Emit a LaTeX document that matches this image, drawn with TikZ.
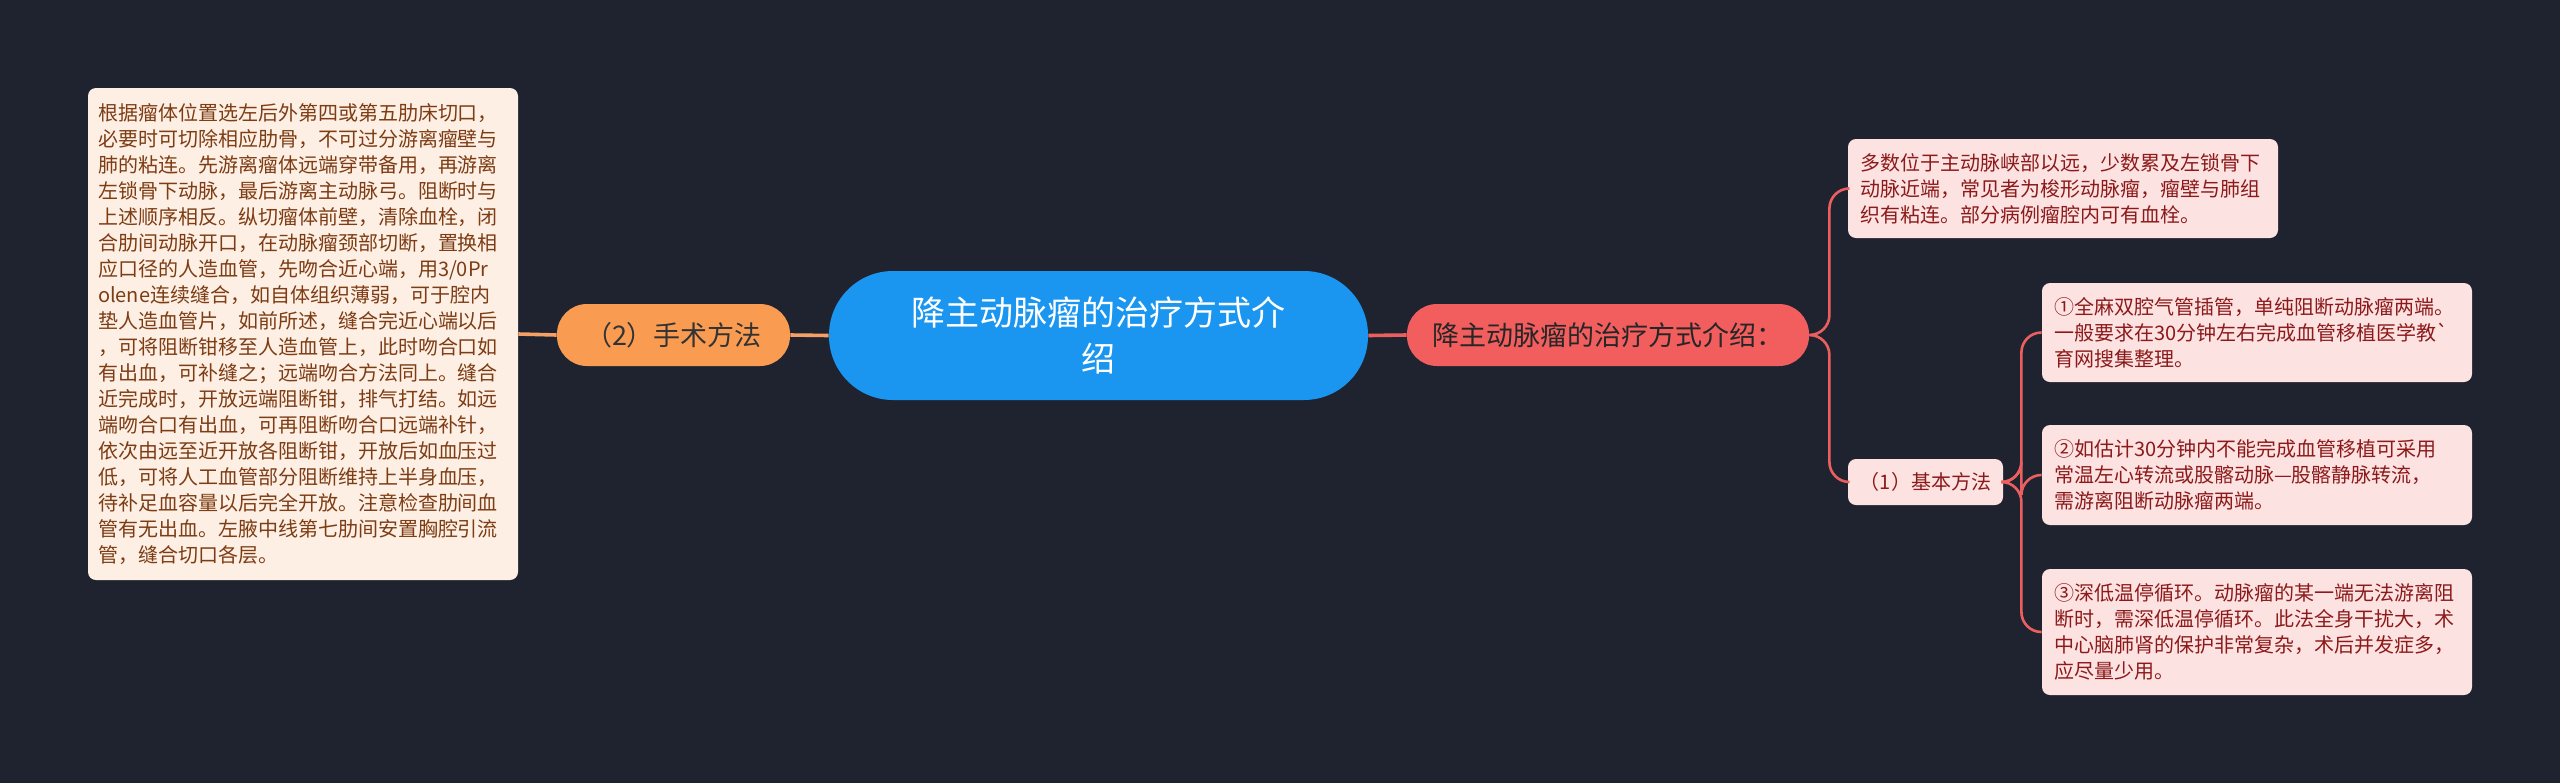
\documentclass[tikz,border=0pt]{standalone}
\usepackage{fontspec}
\setmainfont{Noto Sans CJK SC}[Ligatures=TeXOff]
\definecolor{bgnavy}{HTML}{1F2330}
\definecolor{rootblue}{HTML}{1A96F0}
\definecolor{orangefill}{HTML}{F99C52}
\definecolor{redfill}{HTML}{F25E5E}
\definecolor{peachfill}{HTML}{FDEFE3}
\definecolor{peachtext}{HTML}{7D3C14}
\definecolor{pinkfill}{HTML}{FDE2E2}
\definecolor{pinktext}{HTML}{8C1A1A}
\definecolor{orangeline}{HTML}{F5A064}
\definecolor{redline}{HTML}{EB5F5F}
\begin{document}
\begin{tikzpicture}[
        x=0.5pt, y=-0.5pt,
        topic/.style={fill=rootblue, text=white, rounded corners=32pt, minimum width=269.5pt, minimum height=64.5pt, align=center, font=\fontsize{17pt}{23pt}\selectfont},
        branch/.style={rounded corners=15pt, minimum height=31pt, font=\fontsize{13.5pt}{16pt}\selectfont},
        leaf/.style={rounded corners=4pt, text width=203pt, inner xsep=6pt, align=left, font=\fontsize{10pt}{13pt}\selectfont},
        link/.style={line width=1.8pt},
        sublink/.style={line width=1.3pt, rounded corners=10pt}
    ]
        % background and page size
        \fill[bgnavy] (0,0) rectangle (2560,783);
        % central topic
        \node[topic] (root) at (1098.5,335.5) {降主动脉瘤的治疗方式介\\绍};
        % left side
        \node[branch, fill=orangefill, text=black!80, minimum width=116.5pt] (surgery) at (673.5,335) {（2）手术方法};
        \node[leaf, fill=peachfill, text=peachtext, text width=205pt, inner xsep=5pt, minimum height=246pt] (surgerytext) at (303,334) {根据瘤体位置选左后外第四或第五肋床切口，\\必要时可切除相应肋骨，不可过分游离瘤壁与\\肺的粘连。先游离瘤体远端穿带备用，再游离\\左锁骨下动脉，最后游离主动脉弓。阻断时与\\上述顺序相反。纵切瘤体前壁，清除血栓，闭\\合肋间动脉开口，在动脉瘤颈部切断，置换相\\应口径的人造血管，先吻合近心端，用3/0Pr\\olene连续缝合，如自体组织薄弱，可于腔内\\垫人造血管片，如前所述，缝合完近心端以后\\，可将阻断钳移至人造血管上，此时吻合口如\\有出血，可补缝之；远端吻合方法同上。缝合\\近完成时，开放远端阻断钳，排气打结。如远\\端吻合口有出血，可再阻断吻合口远端补针，\\依次由远至近开放各阻断钳，开放后如血压过\\低，可将人工血管部分阻断维持上半身血压，\\待补足血容量以后完全开放。注意检查肋间血\\管有无出血。左腋中线第七肋间安置胸腔引流\\管，缝合切口各层。};
        % right side
        \node[branch, fill=redfill, text=black!85, minimum width=201pt] (intro) at (1608,335) {降主动脉瘤的治疗方式介绍：};
        \node[leaf, fill=pinkfill, text=pinktext, minimum height=49.5pt] (introtext) at (2063,188.5) {多数位于主动脉峡部以远，少数累及左锁骨下\\动脉近端，常见者为梭形动脉瘤，瘤壁与肺组\\织有粘连。部分病例瘤腔内可有血栓。};
        \node[fill=pinkfill, text=pinktext, rounded corners=4pt, minimum width=77.5pt, minimum height=23pt, font=\fontsize{10pt}{13pt}\selectfont] (basic) at (1925.5,482) {（1）基本方法};
        \node[leaf, fill=pinkfill, text=pinktext, minimum height=49.5pt] (stepone) at (2257,332.5) {①全麻双腔气管插管，单纯阻断动脉瘤两端。\\一般要求在30分钟左右完成血管移植医学教\symbol{96}\\育网搜集整理。};
        \node[leaf, fill=pinkfill, text=pinktext, minimum height=50pt] (steptwo) at (2257,475) {②如估计30分钟内不能完成血管移植可采用\\常温左心转流或股髂动脉—股髂静脉转流，\\需游离阻断动脉瘤两端。};
        \node[leaf, fill=pinkfill, text=pinktext, minimum height=63pt] (stepthree) at (2257,632) {③深低温停循环。动脉瘤的某一端无法游离阻\\断时，需深低温停循环。此法全身干扰大，术\\中心脑肺肾的保护非常复杂，术后并发症多，\\应尽量少用。};
        % connectors
        \draw[link, orangeline] (root.west) -- (surgery.east);
        \draw[link, orangeline] (surgery.west) -- (surgerytext.east);
        \draw[link, redline] (root.east) -- (intro.west);
        \draw[sublink, redline] (intro.east) -- ++(20,0) |- (introtext.west);
        \draw[sublink, redline] (intro.east) -- ++(20,0) |- (basic.west);
        \draw[sublink, redline] (basic.east) -- ++(18,0) |- (stepone.west);
        \draw[sublink, redline] (basic.east) -- ++(18,0) |- (steptwo.west);
        \draw[sublink, redline] (basic.east) -- ++(18,0) |- (stepthree.west);
    \end{tikzpicture}
\end{document}
